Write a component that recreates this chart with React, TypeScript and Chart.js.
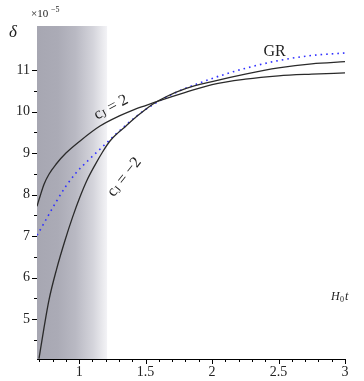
import React, { useEffect, useRef } from "react";
import { Chart, registerables } from "chart.js";

Chart.register(...registerables);

// ---- data (delta in units of 1e-5 vs H0 t) ----
const xCjPlus = [0.683, 0.706, 0.736, 0.773, 0.826, 0.901, 1.014, 1.157, 1.307, 1.4, 1.5, 1.6, 1.8, 2.0, 2.25, 2.5, 2.75, 3.0];
const yCjPlus = [7.72, 7.96, 8.25, 8.49, 8.73, 9.0, 9.31, 9.65, 9.9, 10.03, 10.145, 10.255, 10.46, 10.65, 10.78, 10.86, 10.9, 10.93];

const xCjMinus = [0.698, 0.735, 0.773, 0.83, 0.894, 0.95, 1.006, 1.06, 1.119, 1.175, 1.232, 1.29, 1.345, 1.41, 1.48, 1.55, 1.65, 1.8, 2.0, 2.25, 2.5, 2.75, 3.0];
const yCjMinus = [4.05, 4.78, 5.46, 6.2, 6.9, 7.45, 7.94, 8.35, 8.71, 9.02, 9.29, 9.48, 9.63, 9.82, 10.0, 10.17, 10.35, 10.55, 10.72, 10.9, 11.05, 11.15, 11.2];

const xGR = [0.683, 0.698, 0.76, 0.826, 0.9, 0.976, 1.08, 1.179, 1.254, 1.33, 1.405, 1.5, 1.585, 1.735, 1.908, 2.059, 2.25, 2.488, 2.75, 3.0];
const yGR = [7.02, 7.1, 7.45, 7.82, 8.2, 8.52, 8.86, 9.16, 9.39, 9.61, 9.82, 10.05, 10.22, 10.47, 10.69, 10.86, 11.04, 11.22, 11.35, 11.41];

const xTickLabels = [1, 1.5, 2, 2.5, 3];
const yTickLabels = [5, 6, 7, 8, 9, 10, 11];

const X_MIN = 0.683;
const X_MAX = 3;
const Y_MIN = 4.04;
const Y_MAX = 12.06;
const SHADE_END = 1.21;

const toPts = (xs: number[], ys: number[]) => xs.map((x, i) => ({ x, y: ys[i] }));

const SERIF = "'Liberation Serif', 'DejaVu Serif', serif";

const decorPlugin = {
  id: "decor",
  beforeDatasetsDraw(chart: any) {
    const { ctx, chartArea, scales } = chart;
    const xs = scales.x;
    const x0 = xs.getPixelForValue(X_MIN);
    const x1 = xs.getPixelForValue(SHADE_END);
    const g = ctx.createLinearGradient(x0, 0, x1, 0);
    g.addColorStop(0, "#a7a7b2");
    g.addColorStop(0.3, "#ababb6");
    g.addColorStop(0.55, "#b9b9c3");
    g.addColorStop(0.8, "#d4d4db");
    g.addColorStop(1, "#f3f3f6");
    ctx.save();
    ctx.fillStyle = g;
    ctx.fillRect(x0, chartArea.top, x1 - x0, chartArea.bottom - chartArea.top);
    ctx.restore();
  },
  afterDraw(chart: any) {
    const { ctx, chartArea, scales } = chart;
    const xs = scales.x;
    const ys = scales.y;
    ctx.save();
    ctx.strokeStyle = "#000";
    ctx.lineWidth = 1;
    // x ticks
    for (let i = 7; i <= 30; i++) {
      const v = i / 10;
      const px = Math.round(xs.getPixelForValue(v)) + 0.5;
      const major = i % 5 === 0;
      ctx.beginPath();
      ctx.moveTo(px, chartArea.bottom);
      ctx.lineTo(px, chartArea.bottom + (major ? 5 : 3));
      ctx.stroke();
    }
    // y ticks
    for (let i = 9; i <= 22; i++) {
      const v = i / 2;
      const py = Math.round(ys.getPixelForValue(v)) + 0.5;
      const major = i % 2 === 0;
      ctx.beginPath();
      ctx.moveTo(chartArea.left, py);
      ctx.lineTo(chartArea.left - (major ? 5 : 3), py);
      ctx.stroke();
    }
    ctx.fillStyle = "#222";
    // delta label
    ctx.font = `italic 17px ${SERIF}`;
    ctx.textAlign = "center";
    ctx.textBaseline = "middle";
    ctx.fillText("δ", 13, 33);
    // x10^-5
    ctx.font = `11px ${SERIF}`;
    ctx.textAlign = "left";
    ctx.fillText("×10", 31, 14);
    ctx.font = `8px ${SERIF}`;
    ctx.fillText("−5", 51, 10);
    // H0 t
    ctx.font = `italic 12px ${SERIF}`;
    ctx.fillText("H", 331, 297);
    ctx.font = `8px ${SERIF}`;
    ctx.fillText("0", 340, 300);
    ctx.font = `italic 12px ${SERIF}`;
    ctx.fillText("t", 345, 297);
    // GR
    ctx.font = `16px ${SERIF}`;
    ctx.textAlign = "center";
    ctx.fillText("GR", xs.getPixelForValue(2.47), ys.getPixelForValue(11.43));

    const drawCJ = (vx: number, vy: number, angle: number, rhs: string) => {
      ctx.save();
      ctx.translate(xs.getPixelForValue(vx), ys.getPixelForValue(vy));
      ctx.rotate(angle);
      ctx.textAlign = "left";
      ctx.textBaseline = "middle";
      ctx.font = `16px ${SERIF}`;
      const wc = ctx.measureText("c").width;
      ctx.font = `11px ${SERIF}`;
      const wj = ctx.measureText("J").width;
      ctx.font = `16px ${SERIF}`;
      const wr = ctx.measureText(" = " + rhs).width;
      const total = wc + wj + wr;
      let cx = -total / 2;
      ctx.fillText("c", cx, 0);
      cx += wc;
      ctx.font = `11px ${SERIF}`;
      ctx.fillText("J", cx, 3);
      cx += wj;
      ctx.font = `16px ${SERIF}`;
      ctx.fillText(" = " + rhs, cx, 0);
      ctx.restore();
    };
    drawCJ(1.24, 10.1, (-28 * Math.PI) / 180, "2");
    drawCJ(1.34, 8.42, (-52 * Math.PI) / 180, "−2");
    ctx.restore();
  },
};

export default function App() {
  const ref = useRef<HTMLCanvasElement>(null);
  useEffect(() => {
    document.body.style.margin = "0";
    const c = ref.current!;
    const chart = new Chart(c, {
      type: "line",
      data: {
        datasets: [
          {
            label: "cJ = 2",
            data: toPts(xCjPlus, yCjPlus),
            borderColor: "#2a2a2a",
            borderWidth: 1.3,
            pointRadius: 0,
            cubicInterpolationMode: "monotone",
          },
          {
            label: "cJ = -2",
            data: toPts(xCjMinus, yCjMinus),
            borderColor: "#2a2a2a",
            borderWidth: 1.3,
            pointRadius: 0,
            cubicInterpolationMode: "monotone",
          },
          {
            label: "GR",
            data: toPts(xGR, yGR),
            borderColor: "#3030ff",
            borderWidth: 1.6,
            borderDash: [1.6, 4],
            pointRadius: 0,
            cubicInterpolationMode: "monotone",
          },
        ],
      },
      options: {
        responsive: false,
        animation: false,
        events: [],
        layout: { padding: { top: 26, right: 19, left: 0, bottom: 0 } },
        plugins: { legend: { display: false }, tooltip: { enabled: false } },
        scales: {
          x: {
            type: "linear",
            min: X_MIN,
            max: X_MAX,
            afterFit: (s: any) => {
              s.height = 22;
            },
            afterBuildTicks: (s: any) => {
              s.ticks = xTickLabels.map((v) => ({ value: v }));
            },
            grid: { display: false, drawTicks: false },
            border: { display: true, color: "#000", width: 1 },
            ticks: {
              padding: 5,
              color: "#222",
              font: { family: SERIF, size: 14 },
              maxRotation: 0,
              autoSkip: false,
              callback: (v: any) => String(v),
            },
          },
          y: {
            type: "linear",
            min: Y_MIN,
            max: Y_MAX,
            afterFit: (s: any) => {
              s.width = 37;
            },
            afterBuildTicks: (s: any) => {
              s.ticks = yTickLabels.map((v) => ({ value: v }));
            },
            grid: { display: false, drawTicks: false },
            border: { display: true, color: "#000", width: 1 },
            ticks: {
              padding: 7,
              color: "#222",
              font: { family: SERIF, size: 14 },
              autoSkip: false,
              callback: (v: any) => String(v),
            },
          },
        },
      },
      plugins: [decorPlugin],
    });
    return () => chart.destroy();
  }, []);
  return (
    <div style={{ width: 364, height: 381 }}>
      <canvas ref={ref} width={364} height={381} />
    </div>
  );
}
